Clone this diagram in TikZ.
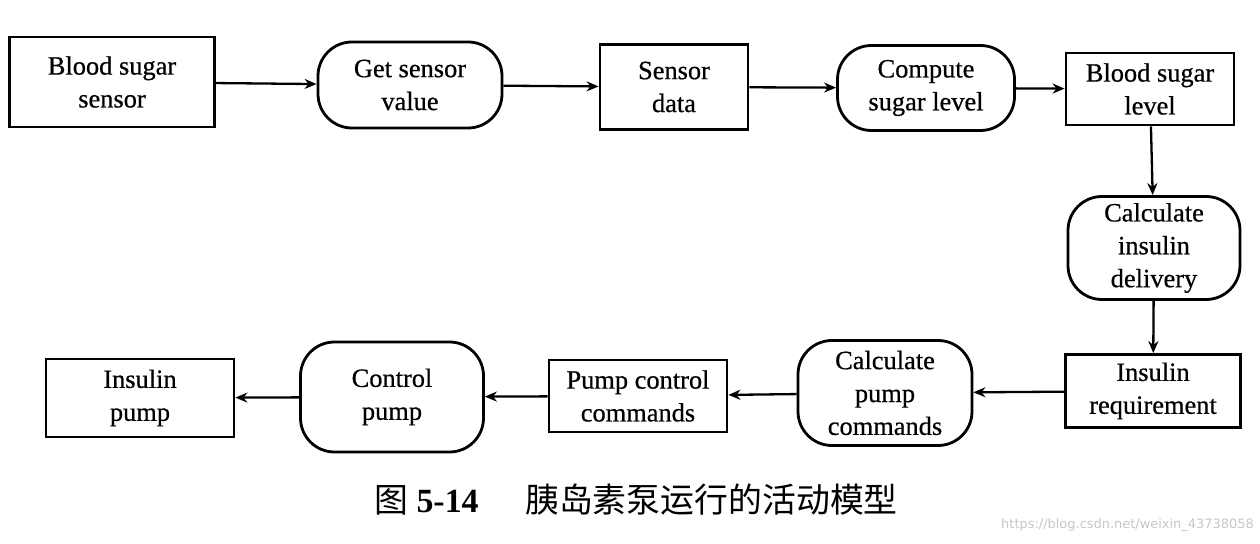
\documentclass[tikz,border=0pt]{standalone}
\usepackage{fontspec}
\setmainfont{Liberation Serif}[FakeBold=0.6]
\newfontfamily\capnum{Liberation Serif Bold}
\newfontfamily\cjk{Noto Sans CJK SC}
\newfontfamily\wmfont{DejaVu Sans}
\usetikzlibrary{arrows.meta}
\begin{document}
\begin{tikzpicture}[x=1bp,y=-1bp,
  every node/.style={font=\fontsize{26.5}{33}\selectfont, align=center, inner sep=0pt},
  databox/.style={draw, line width=2.8bp, rectangle},
  actbox/.style={draw, line width=2.8bp, rounded corners=34bp},
  flow/.style={draw, line width=2.3bp, -{Stealth[length=12bp,width=10bp]}}]
\useasboundingbox (0,0) rectangle (1260,544);
% top row
\node[databox, minimum width=205bp, minimum height=90bp] (bss) at (112,82) {Blood sugar\\sensor};
\node[actbox, minimum width=184bp, minimum height=86bp] (gsv) at (410,85) {Get sensor\\value};
\node[databox, minimum width=148bp, minimum height=85bp] (sd) at (674,87) {Sensor\\data};
\node[actbox, minimum width=177bp, minimum height=85bp] (csl) at (926,88) {Compute\\sugar level};
\node[databox, minimum width=168bp, minimum height=72bp] (bsl) at (1150,89) {Blood sugar\\level};
% right column
\node[actbox, minimum width=172bp, minimum height=103bp] (cid) at (1154,248) {Calculate\\insulin\\delivery};
\node[databox, minimum width=175bp, minimum height=73bp] (ir) at (1153,391) {Insulin\\requirement};
% bottom row
\node[actbox, minimum width=174bp, minimum height=105bp] (cpc) at (885,393) {Calculate\\pump\\commands};
\node[databox, minimum width=178bp, minimum height=72bp] (pcc) at (638,396) {Pump control\\commands};
\node[actbox, minimum width=183bp, minimum height=110bp] (cp) at (392,397) {Control\\pump};
\node[databox, minimum width=188bp, minimum height=78bp] (ip) at (140,398) {Insulin\\pump};
% connectors
\draw[flow] (bss) -- (gsv);
\draw[flow] (gsv) -- (sd);
\draw[flow] (sd) -- (csl);
\draw[flow] (csl) -- (bsl);
\draw[flow] (bsl) -- (cid);
\draw[flow] (cid) -- (ir);
\draw[flow] (ir) -- (cpc);
\draw[flow] (cpc) -- (pcc);
\draw[flow] (pcc) -- (cp);
\draw[flow] (cp) -- (ip);
% caption
\node[anchor=west] (cap1) at (374,500) {\fontsize{34}{34}\selectfont{\cjk 图} {\capnum 5-14}};
\node[anchor=west] (cap2) at (525,500) {\cjk\fontsize{34}{34}\selectfont 胰岛素泵运行的活动模型};
\node[anchor=east, text=gray!45] (wm) at (1254,525) {\wmfont\fontsize{13}{13}\selectfont https://blog.csdn.net/weixin\_43738058};
\end{tikzpicture}
\end{document}
